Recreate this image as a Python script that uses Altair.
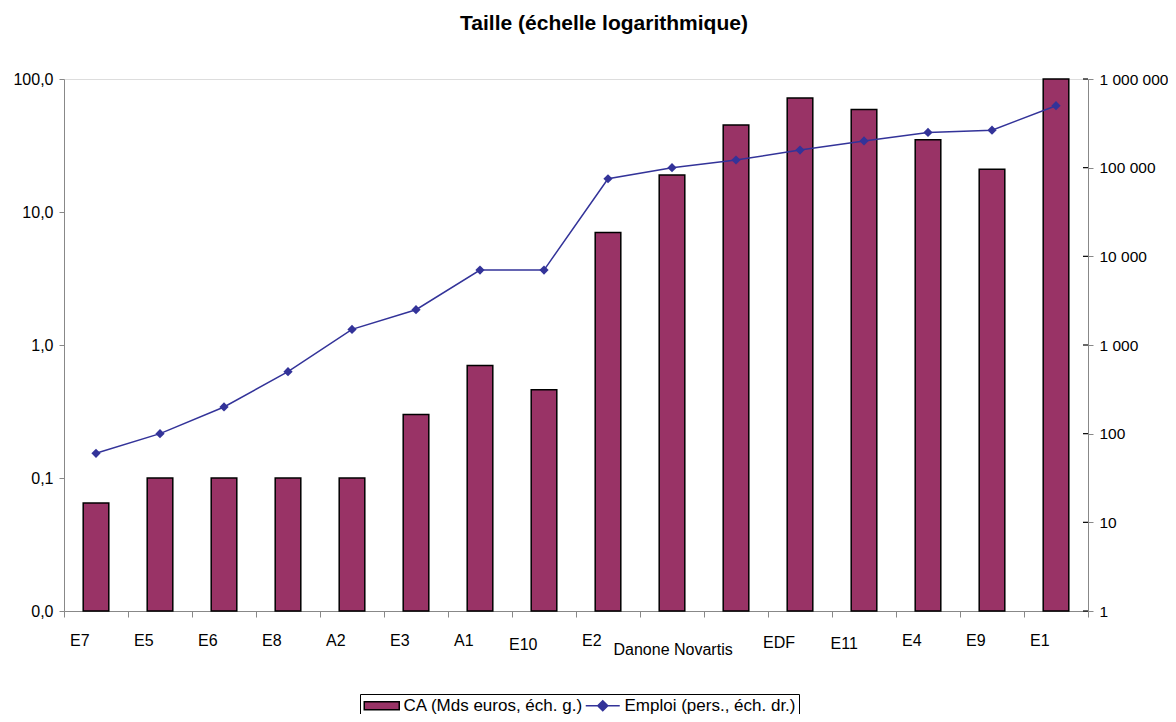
import altair as alt
import pandas as pd

# ---- data ----
categories = ["E7", "E5", "E6", "E8", "A2", "E3", "A1", "E10", "E2",
              "Danone", "Novartis", "EDF", "E11", "E4", "E9", "E1"]
ca_mds = [0.065, 0.1, 0.1, 0.1, 0.1, 0.30, 0.70, 0.46, 7.0,
          19.0, 45.0, 72.0, 59.0, 35.0, 21.0, 100.0]
emploi = [60, 100, 200, 500, 1500, 2500, 7000, 7000, 75000,
          100000, 122000, 158000, 200000, 250000, 265000, 500000]
left_ticks = [0.01, 0.1, 1, 10, 100]
right_ticks = [1, 10, 100, 1000, 10000, 100000, 1000000]
series = ["CA (Mds euros, éch. g.)", "Emploi (pers., éch. dr.)"]

df = pd.DataFrame({"cat": categories, "ca": ca_mds, "emploi": emploi})
ticks_df = pd.DataFrame({"t": right_ticks})
legend_df = pd.DataFrame({"s": series})

W, H = 1024, 532
FONT = "Liberation Sans"
PLUM = "#993366"
NAVY = "#333399"

x_axis = alt.Axis(
    title=None, tickBand="extent", tickSize=6, labelAngle=0, labelAlign="left",
    labelBaseline="alphabetic", labelFontSize=16, labelOverlap=False,
    labelBound=False, labelFlush=False, grid=False,
    labelOffset={"condition": [
        {"test": "datum.value === 'E10'", "value": -35.5},
        {"test": "datum.value === 'Danone'", "value": -59},
        {"test": "datum.value === 'Novartis'", "value": -62.5},
        {"test": "datum.value === 'EDF'", "value": -37.5},
        {"test": "datum.value === 'E11'", "value": -34}], "value": -26.5},
    labelPadding={"condition": [
        {"test": "datum.value === 'E10'", "value": 32},
        {"test": "datum.value === 'Danone' || datum.value === 'Novartis'", "value": 37},
        {"test": "datum.value === 'EDF'", "value": 30.5},
        {"test": "datum.value === 'E11'", "value": 31}], "value": 28},
)
x_enc = alt.X("cat:N", sort=categories,
              scale=alt.Scale(paddingInner=0, paddingOuter=0), axis=x_axis)

left_axis = alt.Axis(
    title=None, orient="left", values=left_ticks, tickSize=5, labelPadding=6,
    labelFontSize=16, labelExpr="replace(format(datum.value, '.1f'), '.', ',')",
    labelOverlap=False, grid=False)
right_axis = alt.Axis(
    title=None, orient="right", values=right_ticks, tickSize=5, labelPadding=6,
    labelFontSize=15.5, labelOverlap=False, grid=False,
    labelExpr="replace(replace(format(datum.value, ','), ',', ' '), ',', ' ')")

left_scale = alt.Scale(type="log", domain=[0.01, 100])
right_scale = alt.Scale(type="log", domain=[1, 1000000])

bars = alt.Chart(df).mark_bar(
    fill=PLUM, stroke="#000000", strokeWidth=1.5,
    width=alt.RelativeBandSize(0.4)
).encode(
    x=x_enc,
    y=alt.Y("ca:Q", scale=left_scale, axis=left_axis),
    y2=alt.datum(0.01),
)

line = alt.Chart(df).mark_line(color=NAVY, strokeWidth=1.5).encode(
    x=x_enc, y=alt.Y("emploi:Q", scale=right_scale, axis=right_axis))
points = alt.Chart(df).mark_point(
    shape="diamond", filled=True, color=NAVY, size=85, opacity=1
).encode(x=x_enc, y=alt.Y("emploi:Q", scale=right_scale, axis=right_axis))
inner_ticks = alt.Chart(ticks_df).mark_rule(color="black", strokeWidth=1.2).encode(
    x=alt.value(W - 5), x2=alt.value(W),
    y=alt.Y("t:Q", scale=right_scale, axis=right_axis))

right_layer = alt.layer(line, points, inner_ticks)

rect_path = "M-4.375,-1H4.375V1H-4.375Z"
line_path = "M-4.25,0H4.25M0,-1.25L1.25,0L0,1.25L-1.25,0Z"
leg = alt.Legend(
    title=None, orient="none", legendX=296, legendY=615,
    direction="horizontal", symbolSize=64, symbolOffset=10.25, labelOffset=13.25,
    labelFontSize=17, labelFont=FONT, labelColor="black", labelLimit=400,
    padding=3, strokeColor="black", fillColor="white", columnPadding=-4,
    symbolStrokeWidth=1.5)
legend_layer = alt.Chart(legend_df).transform_filter("false").mark_point(
    filled=True, opacity=1
).encode(
    fill=alt.Fill("s:N", scale=alt.Scale(domain=series, range=[PLUM, NAVY]), legend=leg),
    stroke=alt.Stroke("s:N", scale=alt.Scale(domain=series, range=["#000000", NAVY]), legend=leg),
    shape=alt.Shape("s:N", scale=alt.Scale(domain=series, range=[rect_path, line_path]), legend=leg),
)

chart = alt.layer(bars, right_layer, legend_layer).resolve_scale(
    y="independent"
).properties(
    width=W, height=H,
    padding={"left": 56, "top": 71, "right": 80, "bottom": 103},
    autosize=alt.AutoSizeParams(type="none"),
    title=alt.TitleParams(
        "Taille (échelle logarithmique)", font=FONT, fontSize=21,
        fontWeight="bold", color="black", anchor="middle", frame="group",
        dx=28, offset=20, baseline="alphabetic"),
).configure_view(
    stroke="#808080", strokeWidth=1
).configure_axis(
    labelFont=FONT, labelColor="black", domainColor="black", tickColor="black",
    domainWidth=1.5, tickWidth=1.2, grid=False
).configure(background="white")

chart.save("out.html", embed_options={"renderer": "svg", "actions": False})
